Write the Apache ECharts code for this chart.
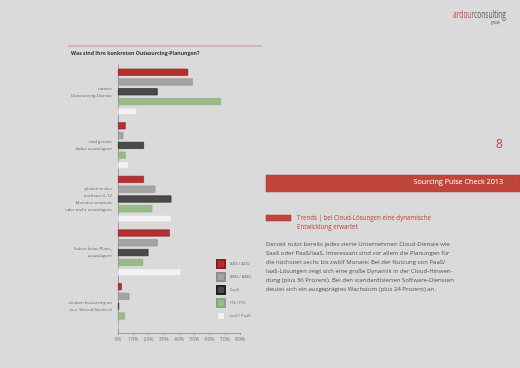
<!DOCTYPE html>
<html><head><meta charset="utf-8">
<script src="https://cdn.jsdelivr.net/npm/echarts@6/dist/echarts.min.js"></script>
<style>html,body{margin:0;padding:0;background:#dadada;}#c{width:520px;height:368px;}</style>
</head><body><div id="c"></div>
<script>
const categories = ['nutzen\nOutsourcing-Dienste', 'sind gerade\ndabei auszulagern', 'planen in den\nnächsten 6-12\nMonaten erstmals\noder mehr auszulagern', 'haben keine Pläne,\nauszulagern', 'streben Insourcing an\n(u.a. Shared Services)'];
const seriesNames = ['ADS / ADO', 'AMS / AMO', 'SaaS', 'ITS / ITO', 'IaaS / PaaS'];
const adsAdo = [46, 5, 17, 34, 2.5];
const amsAmo = [49, 3.5, 24.5, 26, 7.5];
const saas = [26, 17, 35, 20, 0.7];
const itsIto = [67.5, 5, 22.5, 16.5, 4.5];
const iaasPaas = [12.5, 7, 35, 41.5, 0];
const xTicks = [0, 10, 20, 30, 40, 50, 60, 70, 80];

const colors = ['#b52f2e', '#a3a3a3', '#4a4a4a', '#99bb88', '#f3f3f3'];
const borders = ['#8a1f1e', '#8e8e8e', '#222222', '#86a876', '#d8d8d8'];
const values = [adsAdo, amsAmo, saas, itsIto, iaasPaas];

const chart = echarts.init(document.getElementById('c'), null, {renderer: 'canvas'});
const bodyLines = [
  'Derzeit nutzt bereits jedes vierte Unternehmen Cloud-Dienste wie',
  'SaaS oder PaaS/IaaS. Interessant sind vor allem die Planungen für',
  'die nächsten sechs bis zwölf Monate: Bei der Nutzung von PaaS/',
  'IaaS-Lösungen zeigt sich eine große Dynamik in der Cloud-Hinwen-',
  'dung (plus 36 Prozent). Bei den standardisierten Software-Diensten',
  'deutet sich ein ausgeprägtes Wachstum (plus 24 Prozent) an.'
];
const font = '"Open Sans", "Liberation Sans", sans-serif';
chart.setOption({
  backgroundColor: '#dadada',
  animation: false,
  textStyle: {fontFamily: font},
  grid: {left: 118, top: 65, width: 122, height: 268},
  legend: {
    orient: 'vertical', left: 211, top: 254, itemWidth: 8, itemHeight: 8, itemGap: 3,
    icon: 'rect', data: seriesNames,
    textStyle: {fontSize: 4, lineHeight: 8, color: '#666', fontFamily: font}
  },
  xAxis: {
    type: 'value', min: 0, max: 80, interval: 10,
    axisLine: {show: true, lineStyle: {color: '#9a9a9a', width: 1}},
    axisTick: {show: true, length: 2, lineStyle: {color: '#9a9a9a'}},
    splitLine: {show: false},
    axisLabel: {fontSize: 5, color: '#777', margin: 4, formatter: v => xTicks.includes(v) ? v + '%' : ''}
  },
  yAxis: {
    type: 'category', inverse: true, data: categories,
    axisLine: {show: true, lineStyle: {color: '#9a9a9a', width: 1}},
    axisTick: {show: false},
    axisLabel: {fontSize: 4.3, lineHeight: 7, color: '#666', margin: 6, align: 'right'}
  },
  series: seriesNames.map((n, i) => ({
    name: n, type: 'bar', data: values[i], barWidth: 7, barGap: '40%',
    itemStyle: {color: colors[i], borderColor: borders[i], borderWidth: 0.6}
  })),
  graphic: [
    {type: 'line', shape: {x1: 68, y1: 46, x2: 262, y2: 46}, style: {stroke: '#c0605a', lineWidth: 0.6}},
    {type: 'text', left: 71, top: 51, style: {text: 'Was sind Ihre konkreten Outsourcing-Planungen?', fontSize: 5.2, fontWeight: 'bold', fill: '#333', fontFamily: font}},
    {type: 'text', x: 453, y: 9, scaleX: 0.6, style: {rich: {a: {fontSize: 11, fill: '#c0453a', fontFamily: font}, b: {fontSize: 11, fill: '#555', fontFamily: font}}, text: '{a|ardour}{b|consulting}'}},
    {type: 'text', x: 491, y: 20, scaleX: 0.7, style: {text: 'group', fontSize: 4.5, fill: '#555', fontFamily: font}},
    {type: 'text', left: 496, top: 139, style: {text: '8', fontSize: 12, fill: '#c0453a', fontFamily: font}},
    {type: 'rect', shape: {x: 266, y: 175, width: 254, height: 17}, style: {fill: '#c0453a', stroke: '#a9382f', lineWidth: 0.5}},
    {type: 'text', right: 17, top: 178.5, style: {text: 'Sourcing Pulse Check 2013', fontSize: 7.2, fill: '#ffffff', fontFamily: font}},
    {type: 'rect', shape: {x: 266, y: 215, width: 25, height: 6}, style: {fill: '#c0453a', stroke: '#a9382f', lineWidth: 0.5}},
    {type: 'text', left: 297, top: 214, style: {text: 'Trends | bei Cloud-Lösungen eine dynamische\nEntwicklung erwartet', fontSize: 6.2, lineHeight: 8.5, fill: '#c0453a', fontFamily: font}},
    {type: 'text', left: 266, top: 240, style: {text: bodyLines.join('\n'), fontSize: 6, lineHeight: 9, fill: '#555', fontFamily: font}}
  ]
});
</script></body></html>
